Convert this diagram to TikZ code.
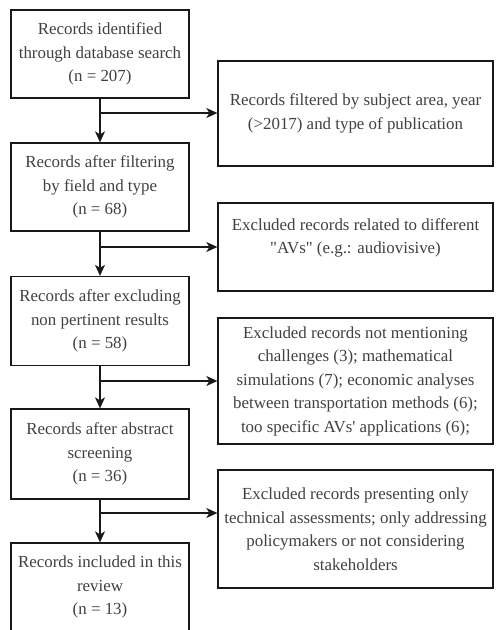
\documentclass[tikz,border=0pt]{standalone}
\usepackage{fontspec}
\setmainfont{Liberation Serif}
\usetikzlibrary{arrows.meta}

\tikzset{
	stage/.style={draw=black!90, line width=1.3pt, minimum width=178pt, minimum height=88pt,
		align=center, text=black!75, inner sep=2pt, font=\fontsize{16.9}{23.5}\selectfont},
	excl/.style={stage, minimum width=275pt},
	flow/.style={draw=black!90, line width=1.3pt, -{Stealth[length=11pt,width=10pt,inset=3pt]}}
}

\begin{document}
\begin{tikzpicture}[x=1pt, y=-1pt]
	\useasboundingbox (0,0) rectangle (496,630);
	% left column
	\node[stage] (s1) at (100, 54) {Records identified\\through database search\\(n = 207)};
	\node[stage] (s2) at (100,187) {Records after filtering\\by field and type\\(n = 68)};
	\node[stage, minimum height=89pt] (s3) at (100,321) {Records after excluding\\non pertinent results\\(n = 58)};
	\node[stage, minimum height=90pt] (s4) at (100,454) {Records after abstract\\screening\\(n = 36)};
	\node[stage] (s5) at (100,587) {Records included in this\\review\\(n = 13)};
	% right column
	\node[excl, minimum height=105pt] (r1) at (355.5,113.5) {Records filtered by subject area, year\\(>2017) and type of publication};
	\node[excl, text depth=22pt] (r2) at (355.5,247) {Excluded records related to different\\\textquotedbl AVs\textquotedbl{} (e.g.: audiovisive)};
	\node[excl, minimum height=126pt] (r3) at (355.5,381) {Excluded records not mentioning\\challenges (3); mathematical\\simulations (7); economic analyses\\between transportation methods (6);\\too specific AVs\textquotesingle{} applications (6);};
	\node[excl, minimum height=118pt] (r4) at (355.5,529) {Excluded records presenting only\\technical assessments; only addressing\\policymakers or not considering\\stakeholders};
	% branch points
	\coordinate (b1) at (100,113);
	\coordinate (b2) at (100,247);
	\coordinate (b3) at (100,381);
	\coordinate (b4) at (100,513);
	\foreach \a/\b in {s1/s2, s2/s3, s3/s4, s4/s5}
		\draw[flow] (\a.south) -- (\b.north);
	\foreach \n in {1,...,4}
		\draw[flow] (b\n) -- (r\n.west |- b\n);
\end{tikzpicture}
\end{document}
